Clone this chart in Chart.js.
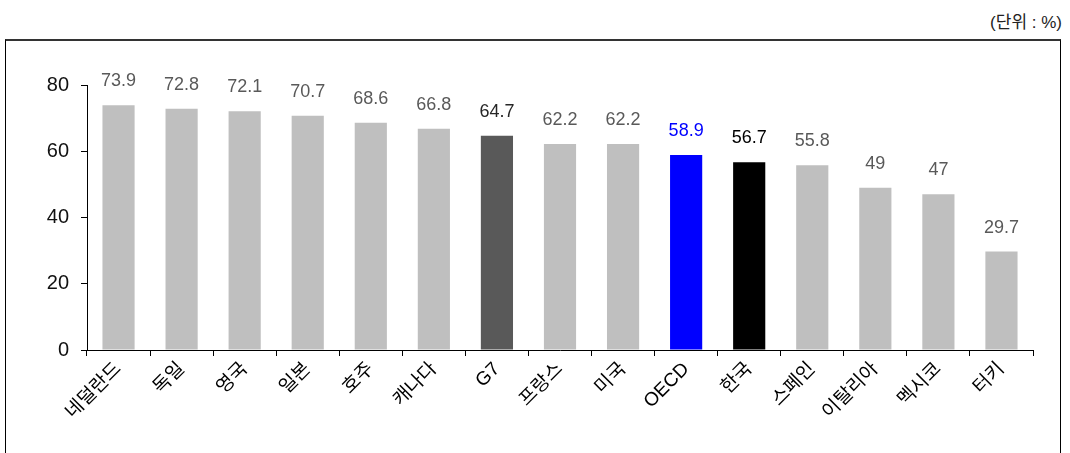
<!DOCTYPE html>
<html lang="ko">
<head>
<meta charset="utf-8">
<script src="https://cdn.jsdelivr.net/npm/chart.js@4"></script>
<style>
  html, body { margin: 0; padding: 0; background: #fff; }
  body { width: 1070px; height: 453px; position: relative; overflow: hidden; font-family: "Liberation Sans", "Noto Sans CJK KR", sans-serif; }
  #unit { position: absolute; right: 8px; top: 8px; font-size: 17px; color: #222; }
  #frame { position: absolute; left: 5px; top: 39px; width: 1056px; height: 430px; border: 1px solid #000; border-top: 2px solid #333; box-sizing: border-box; }
  #wrap { position: absolute; left: 0; top: 0; width: 1070px; height: 453px; }
</style>
</head>
<body>
<div id="unit">(단위 : %)</div>
<div id="frame"></div>
<div id="wrap"><canvas id="chart"></canvas></div>
<script>
const countries = ['네덜란드', '독일', '영국', '일본', '호주', '캐나다', 'G7', '프랑스', '미국', 'OECD', '한국', '스페인', '이탈리아', '멕시코', '터키'];
const rates = [73.9, 72.8, 72.1, 70.7, 68.6, 66.8, 64.7, 62.2, 62.2, 58.9, 56.7, 55.8, 49, 47, 29.7];
const yTicks = [0, 20, 40, 60, 80];

// highlighted groups get their own bar and label colour
function barColor(name) {
  if (name === 'G7') return '#595959';
  if (name === 'OECD') return '#0000ff';
  if (name === '한국') return '#000000';
  return '#bfbfbf';
}
function labelColor(name) {
  if (name === 'G7') return '#262626';
  if (name === 'OECD') return '#0000ff';
  if (name === '한국') return '#000000';
  return '#595959';
}

const valueLabels = {
  id: 'valueLabels',
  afterDatasetsDraw(chart) {
    const ctx = chart.ctx;
    const meta = chart.getDatasetMeta(0);
    ctx.save();
    ctx.font = '18px "Liberation Sans", "Noto Sans CJK KR", sans-serif';
    ctx.textAlign = 'center';
    ctx.textBaseline = 'bottom';
    meta.data.forEach((bar, i) => {
      ctx.fillStyle = labelColor(countries[i]);
      ctx.fillText(String(rates[i]), bar.x, bar.y - 15);
    });
    ctx.restore();
  }
};

const ctx = document.getElementById('chart').getContext('2d');
new Chart(ctx, {
  type: 'bar',
  data: {
    labels: countries,
    datasets: [{
      data: rates,
      backgroundColor: countries.map(barColor),
      barPercentage: 0.51,
      categoryPercentage: 1
    }]
  },
  options: {
    responsive: true,
    maintainAspectRatio: false,
    animation: false,
    layout: { padding: { top: 85, right: 37, left: 0, bottom: 0 } },
    plugins: {
      legend: { display: false },
      tooltip: { enabled: false }
    },
    scales: {
      x: {
        grid: { drawOnChartArea: false, tickLength: 6, color: '#000', offset: true },
        border: { color: '#000', width: 1 },
        ticks: {
          color: '#000',
          font: { size: 19, family: '"Liberation Sans", "Noto Sans CJK KR", sans-serif' },
          minRotation: 45,
          maxRotation: 45,
          autoSkip: false,
          padding: 2
        },
        afterFit(scale) { scale.height = 103; }
      },
      y: {
        min: 0,
        max: 80,
        afterBuildTicks(scale) { scale.ticks = yTicks.map(v => ({ value: v })); },
        grid: { drawOnChartArea: false, tickLength: 6, color: '#000' },
        border: { color: '#000', width: 1 },
        ticks: {
          color: '#111',
          font: { size: 20, family: '"Liberation Sans", sans-serif' },
          padding: 12
        },
        afterFit(scale) { scale.width = 87; }
      }
    }
  },
  plugins: [valueLabels]
});
</script>
</body>
</html>
